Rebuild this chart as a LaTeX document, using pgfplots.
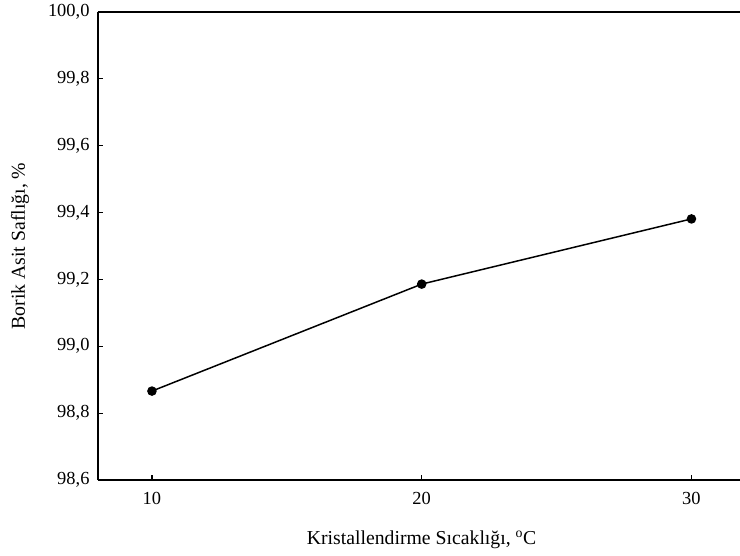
\documentclass[border=0pt]{standalone}
\usepackage{pgfplots}
\pgfplotsset{compat=1.18}
\usepackage{fontspec}
\setmainfont{Liberation Serif}
\begin{document}
\begin{tikzpicture}
\begin{axis}[
  scale only axis,
  width=642bp, height=468bp,
  xmin=8, xmax=31.8,
  ymin=98.6, ymax=100.0,
  axis y line*=left,
  xtick={10,20,30},
  ytick={98.6,98.8,99.0,99.2,99.4,99.6,99.8,100.0},
  xtick pos=bottom,
  tick align=inside,
  major tick length=5bp,
  axis line style={line width=1.5pt},
  every tick/.style={black, line width=1.2pt},
  /pgf/number format/assume math mode=true,
  yticklabel style={/pgf/number format/fixed, /pgf/number format/fixed zerofill, /pgf/number format/precision=1, /pgf/number format/use comma, xshift=-5bp},
  xticklabel style={/pgf/number format/fixed, /pgf/number format/precision=0, yshift=-9bp},
  tick label style={font=\fontsize{18.5}{22}\selectfont},
  label style={font=\fontsize{19.8}{23}\selectfont},
  xlabel={Kristallendirme Sıcaklığı, \textsuperscript{o}C},
  ylabel={Borik Asit Saflığı, \%},
  xlabel style={at={(axis description cs:0.504,-0.128)}, anchor=center},
  ylabel style={at={(axis description cs:-0.1215,0.5)}, anchor=center},
  clip=false,
]
\addplot[black, line width=1.5pt, mark=*, mark size=4bp] coordinates {
  (10,98.866) (20,99.186) (30,99.381)
};
\end{axis}
\pgfresetboundingbox
\path ([xshift=-98bp,yshift=-76bp]current axis.south west) rectangle ([yshift=12bp]current axis.north east);
\end{tikzpicture}
\end{document}
